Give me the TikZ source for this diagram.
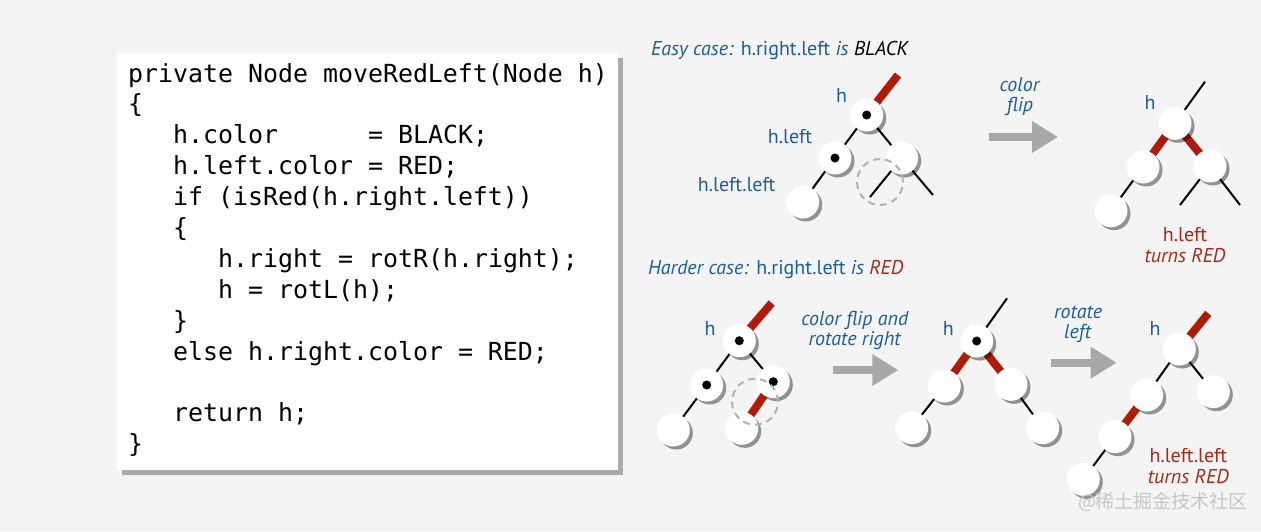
\documentclass[tikz,border=0pt]{standalone}
\usepackage{fontspec}
\setmainfont{PT Sans}
\newfontfamily\codefont{DejaVu Sans Mono}
\newfontfamily\cjkfont{Noto Sans CJK SC}
\usetikzlibrary{shadows,arrows.meta}
\definecolor{bgc}{RGB}{244,244,244}
\definecolor{lblue}{RGB}{28,94,156}
\definecolor{lred}{RGB}{168,40,18}
\definecolor{linkred}{RGB}{178,26,8}
\definecolor{arrgray}{RGB}{168,168,168}
\pgfdeclarelayer{bg}
\pgfdeclarelayer{links}
\pgfsetlayers{bg,links,main}
\tikzset{
  rbn/.style={circle, fill=white, minimum size=33pt, inner sep=0pt,
    drop shadow={shadow xshift=3pt, shadow yshift=-3pt, opacity=0.4, fill=black}},
  withdot/.style={path picture={\fill[black] (path picture bounding box.center) circle (4.5pt);}},
  redlink/.style={line width=8pt, draw=linkred},
  blklink/.style={line width=2pt, draw=black},
  lbl/.style={text=lblue, inner sep=0pt, font=\fontsize{20}{20}\selectfont},
  rlbl/.style={text=lred, inner sep=0pt, font=\fontsize{20}{21}\selectfont},
  dashc/.style={circle, draw=black!30, dash pattern=on 7pt off 5pt, line width=2pt, minimum size=46pt, inner sep=0pt},
  garrow/.style={draw=arrgray, line width=8pt, -{Triangle[length=26pt,width=30pt,fill=arrgray]}},
  codeline/.style={anchor=base west, inner sep=0pt, font=\codefont\fontsize{24.9}{30}\selectfont},
}
\begin{document}
\begin{tikzpicture}[x=1pt,y=-1pt]
\begin{pgfonlayer}{bg}
  \fill[bgc] (0,0) rectangle (1261,531);
\end{pgfonlayer}
\useasboundingbox (0,0) rectangle (1261,531);

% code box
\node[fill=white, minimum width=501pt, minimum height=417pt, anchor=north west, inner sep=0pt,
  drop shadow={shadow xshift=5pt, shadow yshift=-5pt, opacity=0.3, fill=black}] (box) at (117,53) {};
\node[codeline] (c1) at (128,82) {private Node moveRedLeft(Node h)};
\node[codeline] (c2) at (128,112.9) {\{};
\node[codeline] (c3) at (173,143.8) {h.color\hphantom{000000}= BLACK;};
\node[codeline] (c4) at (173,174.7) {h.left.color = RED;};
\node[codeline] (c5) at (173,205.6) {if (isRed(h.right.left))};
\node[codeline] (c6) at (173,236.5) {\{};
\node[codeline] (c7) at (218,267.4) {h.right = rotR(h.right);};
\node[codeline] (c8) at (218,298.3) {h = rotL(h);};
\node[codeline] (c9) at (173,329.2) {\}};
\node[codeline] (c10) at (173,360.1) {else h.right.color = RED;};
\node[codeline] (c12) at (173,421.9) {return h;};
\node[codeline] (c13) at (128,452.8) {\}};

% titles
\node[lbl, anchor=base west] (t1) at (651,55) {\textit{Easy case:} h.right.left \textit{is} \textcolor{black}{\textit{BLACK}}};
\node[lbl, anchor=base west] (t2) at (648,274.5) {\textit{Harder case:} h.right.left \textit{is} \textcolor{lred}{\textit{RED}}};

% ---------- easy case, before ----------
\node[rbn, withdot] (eh) at (866.7,115) {};
\node[rbn, withdot] (el) at (835,158) {};
\node[rbn] (er) at (901.7,158) {};
\node[rbn] (ell) at (802.7,202) {};
\coordinate (etop) at (898,75);
\coordinate (erl) at (870,197);
\coordinate (err) at (933,195);
\begin{pgfonlayer}{links}
  \draw[redlink] (eh.center) -- (etop);
  \draw[blklink] (eh.center) -- (el.center);
  \draw[blklink] (eh.center) -- (er.center);
  \draw[blklink] (el.center) -- (ell.center);
  \draw[blklink] (er.center) -- (erl);
  \draw[blklink] (er.center) -- (err);
\end{pgfonlayer}
\node[dashc] (edash) at (880,182) {};
\node[lbl] (ehl) at (841.7,95) {h};
\node[lbl] (ell1) at (790,137) {h.left};
\node[lbl] (elll) at (736.7,185) {h.left.left};

% arrow color flip
\coordinate (a1s) at (989,137);
\coordinate (a1e) at (1058,137);
\draw[garrow] (a1s) -- (a1e);
\node[lbl, align=center] (a1l) at (1020,97) {\textit{color}\\\textit{flip}};

% ---------- easy case, after ----------
\node[rbn] (fh) at (1175,123.3) {};
\node[rbn] (fl) at (1143,167) {};
\node[rbn] (fr) at (1210,166) {};
\node[rbn] (fll) at (1111,210.7) {};
\coordinate (ftop) at (1205,81.7);
\coordinate (frl) at (1180,205);
\coordinate (frr) at (1240,205);
\begin{pgfonlayer}{links}
  \draw[blklink] (fh.center) -- (ftop);
  \draw[redlink] (fh.center) -- (fl.center);
  \draw[redlink] (fh.center) -- (fr.center);
  \draw[blklink] (fl.center) -- (fll.center);
  \draw[blklink] (fr.center) -- (frl);
  \draw[blklink] (fr.center) -- (frr);
\end{pgfonlayer}
\node[lbl] (fhl) at (1150,102.7) {h};
\node[rlbl, align=center] (fnote) at (1185,245) {h.left\\\textit{turns RED}};

% ---------- harder case, before ----------
\node[rbn, withdot] (gh) at (739.3,340.7) {};
\node[rbn, withdot] (gl) at (706.7,385) {};
\node[rbn, withdot] (gr) at (773.3,381.7) {};
\node[rbn] (gll) at (673.3,430) {};
\node[rbn] (grl) at (741.7,428.3) {};
\coordinate (gtop) at (771.7,303);
\begin{pgfonlayer}{links}
  \draw[redlink] (gh.center) -- (gtop);
  \draw[blklink] (gh.center) -- (gl.center);
  \draw[blklink] (gh.center) -- (gr.center);
  \draw[blklink] (gl.center) -- (gll.center);
  \draw[redlink] (gr.center) -- (grl.center);
\end{pgfonlayer}
\node[dashc] (gdash) at (755,401.7) {};
\node[lbl] (ghl) at (710,328.3) {h};

% arrow color flip and rotate right
\coordinate (a2s) at (832.7,370);
\coordinate (a2e) at (898.3,370);
\draw[garrow] (a2s) -- (a2e);
\node[lbl, align=center] (a2l) at (855,330) {\textit{color flip and}\\\textit{rotate right}};

% ---------- harder case, middle ----------
\node[rbn, withdot] (mh) at (976.7,341) {};
\node[rbn] (ml) at (944.3,386) {};
\node[rbn] (mr) at (1011,384.3) {};
\node[rbn] (mll) at (911.7,427.7) {};
\node[rbn] (mrr) at (1042.7,427.7) {};
\coordinate (mtop) at (1007,298.3);
\begin{pgfonlayer}{links}
  \draw[blklink] (mh.center) -- (mtop);
  \draw[redlink] (mh.center) -- (ml.center);
  \draw[redlink] (mh.center) -- (mr.center);
  \draw[blklink] (ml.center) -- (mll.center);
  \draw[blklink] (mr.center) -- (mrr.center);
\end{pgfonlayer}
\node[lbl] (mhl) at (948.3,328.3) {h};

% arrow rotate left
\coordinate (a3s) at (1050.7,362.7);
\coordinate (a3e) at (1116.7,362.7);
\draw[garrow] (a3s) -- (a3e);
\node[lbl, align=center] (a3l) at (1078,324) {\textit{rotate}\\\textit{left}};

% ---------- harder case, after ----------
\node[rbn] (nh) at (1179.3,349) {};
\node[rbn] (nr) at (1213.3,391.7) {};
\node[rbn] (nl) at (1146.7,395) {};
\node[rbn] (nll) at (1115,436.7) {};
\node[rbn] (nlll) at (1083.3,479.3) {};
\coordinate (ntop) at (1208.3,313.3);
\begin{pgfonlayer}{links}
  \draw[redlink] (nh.center) -- (ntop);
  \draw[blklink] (nh.center) -- (nr.center);
  \draw[blklink] (nh.center) -- (nl.center);
  \draw[redlink] (nl.center) -- (nll.center);
  \draw[blklink] (nll.center) -- (nlll.center);
\end{pgfonlayer}
\node[lbl] (nhl) at (1155,328.3) {h};
\node[rlbl, align=center] (nnote) at (1188.3,466) {h.left.left\\\textit{turns RED}};

% watermark
\node[text=black!22, inner sep=0pt, font=\cjkfont\fontsize{19}{20}\selectfont] (wm) at (1163,501.7) {@稀土掘金技术社区};
\end{tikzpicture}
\end{document}
